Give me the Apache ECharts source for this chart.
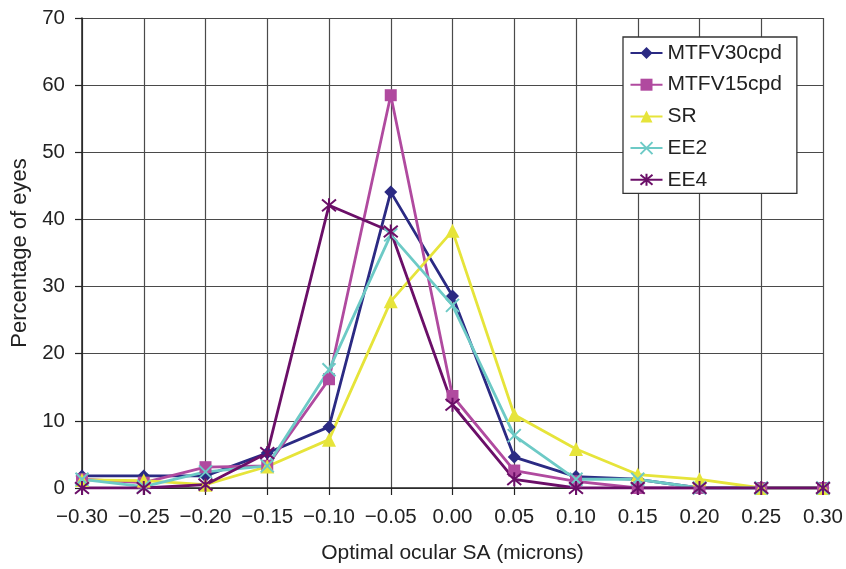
<!DOCTYPE html>
<html>
<head>
<meta charset="utf-8">
<script src="https://cdn.jsdelivr.net/npm/echarts@6/dist/echarts.min.js"></script>
<style>html,body{margin:0;padding:0;background:#fff}#c{width:846px;height:569px}</style>
</head>
<body>
<div id="c"></div>
<script>
const categories = ['\u22120.30','\u22120.25','\u22120.20','\u22120.15','\u22120.10','\u22120.05','0.00','0.05','0.10','0.15','0.20','0.25','0.30'];
const yTicks = [0, 70, 10]; // min, max, interval
const mtfv30 = [1.8, 1.8, 1.8, 5.2, 9.1, 44.1, 28.6, 4.6, 1.7, 1.3, 0, 0, 0];
const mtfv15 = [1.3, 0.8, 3.1, 3.3, 16.2, 58.5, 13.7, 2.6, 1.0, 0, 0, 0, 0];
const sr     = [1.2, 1.1, 0.5, 3.2, 7.2, 27.8, 38.3, 10.9, 5.8, 2.0, 1.3, 0, 0];
const ee2    = [1.3, 0.2, 2.4, 3.3, 17.6, 37.7, 27.2, 7.8, 1.3, 1.3, 0, 0, 0];
const ee4    = [0, 0, 0.5, 5.2, 42.1, 38.2, 12.4, 1.3, 0, 0, 0, 0, 0];
const seriesNames = ['MTFV30cpd','MTFV15cpd','SR','EE2','EE4'];

const colors = ['#2B2A83', '#B04A9F', '#E6E43A', '#6DCAC6', '#6B0F68'];
const symbols = [
  'diamond',
  'rect',
  'triangle',
  'path://M0,0L10,10M10,0L0,10',
  'path://M0,0L10,10M10,0L0,10M5,-1L5,11'
];
const sizes = [13, 12, 14, 13, 14];
const datas = [mtfv30, mtfv15, sr, ee2, ee4];

const chart = echarts.init(document.getElementById('c'), null, {renderer: 'canvas'});
const font = 'Liberation Sans, Arial, Helvetica, sans-serif';
chart.setOption({
  animation: false,
  backgroundColor: '#fff',
  textStyle: {fontFamily: font},
  grid: {left: 82, right: 23, top: 18, bottom: 78, containLabel: false},
  legend: {
    orient: 'vertical',
    left: 623, top: 37,
    data: seriesNames,
    backgroundColor: '#fff',
    borderColor: '#333',
    borderWidth: 1.3,
    borderRadius: 0,
    padding: [5.5, 15, 3, 6.5],
    itemWidth: 32,
    itemHeight: 15,
    itemGap: 10.7,
    textStyle: {fontSize: 21, color: '#222', fontFamily: font, padding: [0,0,0,0]}
  },
  xAxis: {
    type: 'category',
    data: categories,
    boundaryGap: false,
    name: 'Optimal ocular SA (microns)',
    nameLocation: 'middle',
    nameGap: 55,
    nameTextStyle: {fontSize: 21, color: '#222', fontFamily: font},
    axisLine: {lineStyle: {color: '#222', width: 1.5}},
    axisTick: {show: true, inside: false, length: 7, interval: 0, alignWithLabel: true, lineStyle: {color: '#222', width: 1.2}},
    axisLabel: {fontSize: 20.5, color: '#222', margin: 19, interval: 0, fontFamily: font},
    splitLine: {show: true, interval: 0, lineStyle: {color: '#4a4a4a', width: 1.2}}
  },
  yAxis: {
    type: 'value',
    min: yTicks[0], max: yTicks[1], interval: yTicks[2],
    name: 'Percentage of eyes',
    nameLocation: 'middle',
    nameGap: 50,
    nameTextStyle: {fontSize: 22, color: '#222', fontFamily: font},
    axisLine: {show: true, lineStyle: {color: '#222', width: 1.5}},
    axisTick: {show: true, inside: false, length: 7, lineStyle: {color: '#222', width: 1.2}},
    axisLabel: {fontSize: 20.5, color: '#222', margin: 17, fontFamily: font},
    splitLine: {show: true, lineStyle: {color: '#4a4a4a', width: 1.2}}
  },
  series: seriesNames.map((n, i) => ({
    name: n,
    type: 'line',
    data: datas[i],
    symbol: symbols[i],
    symbolSize: sizes[i],
    showAllSymbol: true,
    lineStyle: {color: colors[i], width: 2.8},
    itemStyle: {color: colors[i], borderColor: colors[i], borderWidth: i >= 3 ? 2 : 0},
    emphasis: {disabled: true}
  }))
});
</script>
</body>
</html>
